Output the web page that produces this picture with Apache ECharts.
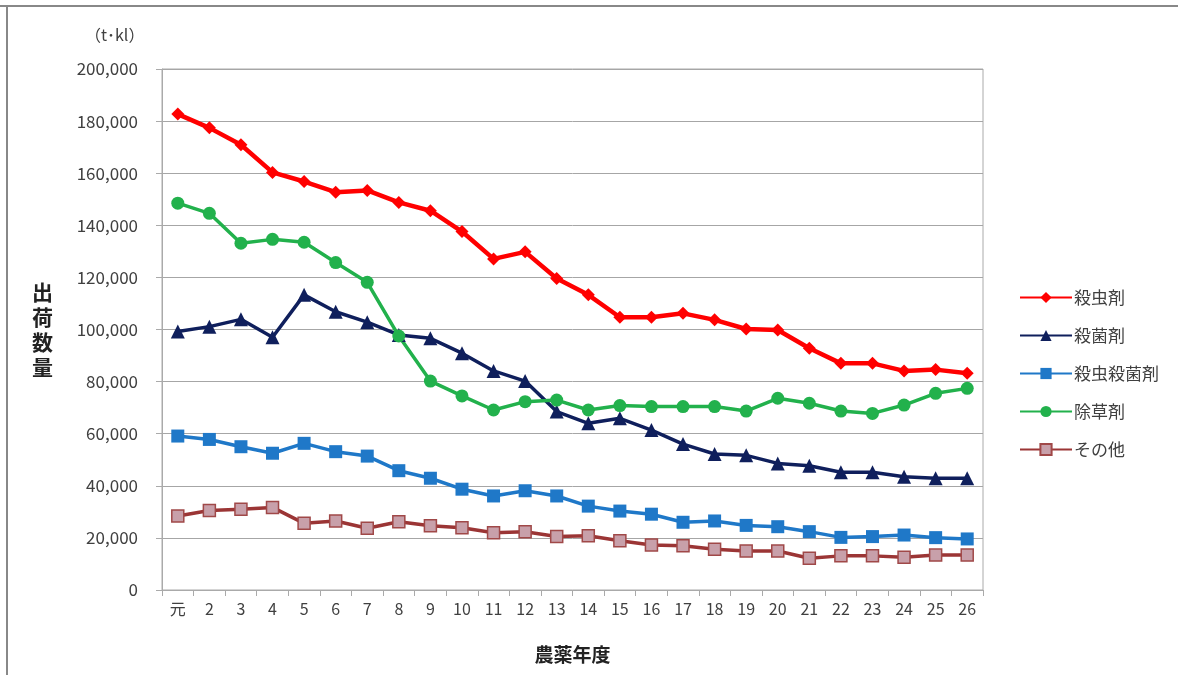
<!DOCTYPE html>
<html>
<head>
<meta charset="utf-8">
<script src="https://cdn.jsdelivr.net/npm/echarts@6/dist/echarts.min.js"></script>
<style>
  html, body { margin: 0; padding: 0; background: #fff; }
  #chart { width: 1178px; height: 675px; }
</style>
</head>
<body>
<div id="chart"></div>
<script>
// 農薬年度（平成）
const years = ['元', '2', '3', '4', '5', '6', '7', '8', '9', '10', '11', '12', '13',
  '14', '15', '16', '17', '18', '19', '20', '21', '22', '23', '24', '25', '26']

// 出荷数量 (t・kl)
const insecticide = [182700, 177400, 170900, 160300, 156800, 152700, 153400, 148800, 145600, 137600,
  127100, 129800, 119600, 113300, 104700, 104700, 106200, 103700, 100200, 99800,
  92800, 87000, 87000, 84100, 84600, 83200]
const fungicide = [99200, 101100, 103900, 97000, 113300, 106800, 102800, 97900, 96600, 90900,
  84100, 80200, 68500, 64000, 65900, 61400, 56000, 52200, 51700, 48600,
  47700, 45200, 45200, 43500, 42900, 42900]
const mixed = [59100, 57800, 55000, 52500, 56300, 53100, 51400, 45800, 42900, 38700,
  36100, 38100, 36100, 32200, 30300, 29100, 26000, 26500, 24800, 24300,
  22400, 20200, 20500, 21100, 20100, 19600]
const herbicide = [148500, 144600, 133100, 134600, 133500, 125700, 118100, 97500, 80200, 74500,
  69100, 72300, 72900, 69100, 70800, 70400, 70400, 70400, 68700, 73600,
  71700, 68700, 67800, 71000, 75500, 77400]
const others = [28400, 30500, 31000, 31700, 25600, 26500, 23700, 26200, 24700, 23900,
  22000, 22400, 20500, 20800, 18900, 17300, 17000, 15600, 15000, 15000,
  12200, 13100, 13100, 12600, 13400, 13400]

const font = '"Noto Sans CJK JP", "Noto Sans", sans-serif'
const chart = echarts.init(document.getElementById('chart'))

const option = {
  backgroundColor: '#fff',
  animation: false,
  textStyle: { fontFamily: font },
  title: {
    text: '（t･kl）',
    left: 80,
    top: 22,
    textStyle: { fontSize: 16, fontWeight: 'normal', color: '#404040', fontFamily: font }
  },
  graphic: [
    { type: 'line', shape: { x1: 0, y1: 6, x2: 1178, y2: 6 }, style: { stroke: '#888', lineWidth: 2 } },
    { type: 'line', shape: { x1: 7, y1: 6, x2: 7, y2: 675 }, style: { stroke: '#888', lineWidth: 2 } }
  ],
  legend: {
    orient: 'vertical',
    left: 1014,
    top: 284,
    itemWidth: 52,
    itemHeight: 14,
    itemGap: 21,
    textStyle: { fontSize: 17, color: '#404040', padding: [0, 0, 0, -3] },
    data: ['殺虫剤', '殺菌剤', '殺虫殺菌剤', '除草剤', 'その他']
  },
  grid: {
    left: 162,
    right: 195,
    top: 69,
    bottom: 85,
    show: true,
    borderColor: '#aaa',
    borderWidth: 1
  },
  xAxis: {
    type: 'category',
    data: years,
    name: '農薬年度',
    nameLocation: 'middle',
    nameGap: 55,
    nameTextStyle: { fontSize: 19, fontWeight: 'bold', color: '#222' },
    axisLine: { lineStyle: { color: '#aaa', width: 1 } },
    axisTick: { show: true, length: 6, lineStyle: { color: '#aaa' } },
    axisLabel: { fontSize: 16, color: '#404040', margin: 11 }
  },
  yAxis: {
    type: 'value',
    min: 0,
    max: 200000,
    interval: 20000,
    name: '出\n荷\n数\n量',
    nameLocation: 'middle',
    nameRotate: 0,
    nameGap: 109,
    nameTextStyle: { fontSize: 21, fontWeight: 'bold', color: '#222', lineHeight: 25 },
    axisLine: { show: true, lineStyle: { color: '#aaa' } },
    axisTick: { show: true, length: 6, lineStyle: { color: '#aaa' } },
    splitLine: { lineStyle: { color: '#a6a6a6', width: 1 } },
    axisLabel: {
      fontSize: 17,
      color: '#404040',
      margin: 24,
      formatter: v => v.toLocaleString('en-US')
    }
  },
  series: [
    {
      name: '殺虫剤', type: 'line', data: insecticide,
      symbol: 'diamond', symbolSize: 13,
      lineStyle: { color: '#ff0000', width: 4.5 },
      itemStyle: { color: '#ff0000' }
    },
    {
      name: '殺菌剤', type: 'line', data: fungicide,
      symbol: 'triangle', symbolSize: 14,
      lineStyle: { color: '#0f1f5c', width: 3.5 },
      itemStyle: { color: '#0f1f5c' }
    },
    {
      name: '殺虫殺菌剤', type: 'line', data: mixed,
      symbol: 'rect', symbolSize: 13,
      lineStyle: { color: '#1f78c8', width: 3.5 },
      itemStyle: { color: '#1f78c8' }
    },
    {
      name: '除草剤', type: 'line', data: herbicide,
      symbol: 'circle', symbolSize: 13,
      lineStyle: { color: '#22b14c', width: 3.5 },
      itemStyle: { color: '#22b14c' }
    },
    {
      name: 'その他', type: 'line', data: others,
      symbol: 'rect', symbolSize: 12,
      lineStyle: { color: '#9b3535', width: 3.5 },
      itemStyle: { color: '#c8a0aa', borderColor: '#a04848', borderWidth: 1.5 }
    }
  ]
}

chart.setOption(option)
</script>
</body>
</html>
